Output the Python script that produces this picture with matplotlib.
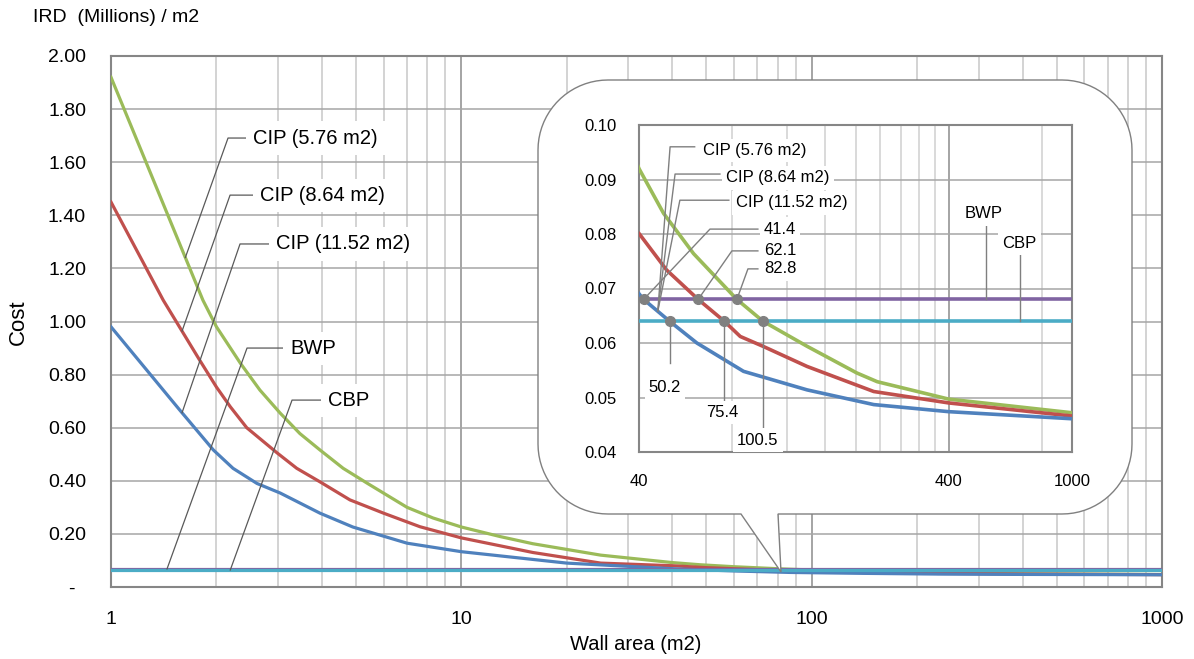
import matplotlib
matplotlib.use('Agg')
import matplotlib.pyplot as plt
import numpy as np
from matplotlib.path import Path
from matplotlib.patches import PathPatch
from matplotlib.ticker import FixedLocator, NullFormatter

plt.rcParams['font.family'] = ['Liberation Sans', 'DejaVu Sans']

# --- data ---
area_576 = [1, 1.83, 2.0, 2.34, 2.66, 3.04, 3.46, 3.95, 4.6, 5.4, 7.0, 8.3, 10, 12.9, 16, 25, 40, 48, 60,
            82.8, 100.5, 139.5, 202, 235, 400, 1000]
cost_576 = [1.92, 1.08, 0.98, 0.843, 0.742, 0.655, 0.578, 0.516, 0.447, 0.39, 0.30, 0.26, 0.226, 0.19, 0.163,
            0.12, 0.092, 0.0838, 0.0764, 0.068, 0.064, 0.0594, 0.0545, 0.0529, 0.0497, 0.0472]

area_864 = [1, 1.41, 1.79, 2.0, 2.19, 2.44, 2.98, 3.39, 3.95, 4.81, 6.0, 7.62, 10, 16, 25, 40, 49.1, 62.1, 75.4,
            84.9, 100.5, 139.5, 229, 400, 1000]
cost_864 = [1.45, 1.08, 0.855, 0.753, 0.679, 0.60, 0.505, 0.447, 0.396, 0.328, 0.278, 0.227, 0.185, 0.13, 0.09,
            0.0801, 0.0734, 0.068, 0.064, 0.0612, 0.0594, 0.0557, 0.0511, 0.049, 0.0466]

area_1152 = [1, 1.57, 1.96, 2.23, 2.61, 3.04, 3.95, 4.9, 7.0, 10, 20, 41.4, 50.2, 61.5, 87, 139.5, 229, 400, 1000]
cost_1152 = [0.98, 0.667, 0.516, 0.447, 0.39, 0.354, 0.278, 0.226, 0.165, 0.133, 0.09, 0.068, 0.064, 0.060,
             0.0548, 0.0514, 0.0487, 0.0474, 0.0461]

area_range = [1, 1000]
cost_bwp = 0.068
cost_cbp = 0.064

bwp_hits = [41.4, 62.1, 82.8]
cbp_hits = [50.2, 75.4, 100.5]

main_yticks = [0, 0.2, 0.4, 0.6, 0.8, 1.0, 1.2, 1.4, 1.6, 1.8, 2.0]
inset_yticks = [0.04, 0.05, 0.06, 0.07, 0.08, 0.09, 0.10]

c_green = '#9BBB59'
c_red = '#C0504D'
c_blue = '#4F81BD'
c_purple = '#8064A2'
c_cyan = '#4BACC6'

W, H = 1194, 659
fig = plt.figure(figsize=(W / 100, H / 100), dpi=100)


def fr(px, py):
    return px / W, 1 - py / H


def on_curve(xs, ys, x):
    return np.interp(np.log10(x), np.log10(xs), ys)


# --- main chart ---
ax = fig.add_axes([111 / W, 1 - 587 / H, (1162 - 111) / W, (587 - 56) / H])
ax.set_xscale('log')
ax.set_xlim(1, 1000)
ax.set_ylim(0, 2)

ax.plot(area_576, cost_576, color=c_green, lw=2.3, zorder=3)
ax.plot(area_864, cost_864, color=c_red, lw=2.3, zorder=3)
ax.plot(area_1152, cost_1152, color=c_blue, lw=2.3, zorder=3)
ax.plot(area_range, [cost_bwp, cost_bwp], color=c_purple, lw=2.3, zorder=3)
ax.plot(area_range, [cost_cbp, cost_cbp], color=c_cyan, lw=2.3, zorder=3)

ax.set_xticks([1, 10, 100, 1000])
ax.set_xticklabels(['1', '10', '100', '1000'])
ax.xaxis.set_minor_formatter(NullFormatter())
ax.set_yticks(main_yticks)
ax.set_yticklabels(['-  '] + ['%.2f' % v for v in main_yticks[1:]])
ax.tick_params(which='both', length=0, labelsize=14)
ax.tick_params(axis='y', pad=18)
ax.tick_params(axis='x', pad=17)
ax.grid(which='major', axis='y', color='#a6a6a6', lw=1.1)
ax.grid(which='major', axis='x', color='#8c8c8c', lw=1.1)
ax.grid(which='minor', axis='x', color='#c8c8c8', lw=1.1)
ax.set_axisbelow(True)
for s in ax.spines.values():
    s.set_color('#868686')
    s.set_linewidth(1.5)

# main labels with leader lines: (text, curve point, elbow x, text x, text y)
main_labels = [
    ('CIP (5.76 m2)', (1.63, on_curve(area_576, cost_576, 1.63)), 2.158, 2.544, 1.691),
    ('CIP (8.64 m2)', (1.595, on_curve(area_864, cost_864, 1.595)), 2.187, 2.663, 1.476),
    ('CIP (11.52 m2)', (1.595, on_curve(area_1152, cost_1152, 1.595)), 2.335, 2.958, 1.292),
    ('BWP', (1.445, cost_bwp), 2.445, 3.243, 0.900),
    ('CBP', (2.19, cost_cbp), 3.287, 4.164, 0.704),
]
for txt, pt, ex, tx, ty in main_labels:
    ax.plot([pt[0], ex, tx * 0.985], [pt[1], ty, ty], color='#595959', lw=0.9, zorder=4)
    ax.text(tx, ty, txt, fontsize=14.5, ha='left', va='center', zorder=5,
            bbox=dict(boxstyle='square,pad=0.35', fc='white', ec='none'))

# --- callout bubble ---
x0, x1, y0, y1, r = 538, 1132, 80, 514, 70
pts = []
for cx, cy, a0, a1 in [(x0 + r, y0 + r, 180, 270), (x1 - r, y0 + r, 270, 360), (x1 - r, y1 - r, 0, 90)]:
    for a in np.linspace(np.radians(a0), np.radians(a1), 20):
        pts.append((cx + r * np.cos(a), cy + r * np.sin(a)))
pts += [(778, y1), (781, 572), (741, y1)]
for a in np.linspace(np.radians(90), np.radians(180), 20):
    pts.append((x0 + r + r * np.cos(a), y1 - r + r * np.sin(a)))
pts.append(pts[0])
verts = [fr(px, py) for px, py in pts]
bubble = PathPatch(Path(verts), transform=fig.transFigure, fc='white', ec='#808080', lw=1.0,
                   clip_on=False, zorder=10)
ax.add_patch(bubble)

# --- inset (zoom 40..1000) ---
ins = fig.add_axes([639 / W, 1 - 452 / H, (1072 - 639) / W, (452 - 125) / H])
ins.set_xscale('log')
ins.set_xlim(40, 1000)
ins.set_ylim(0.04, 0.10)

ins.plot(area_576, cost_576, color=c_green, lw=2.6, zorder=3)
ins.plot(area_864, cost_864, color=c_red, lw=2.6, zorder=3)
ins.plot(area_1152, cost_1152, color=c_blue, lw=2.6, zorder=3)
ins.plot(area_range, [cost_bwp, cost_bwp], color=c_purple, lw=2.6, zorder=3)
ins.plot(area_range, [cost_cbp, cost_cbp], color=c_cyan, lw=2.6, zorder=3)
ins.plot(bwp_hits, [cost_bwp] * 3, 'o', color='#808080', ms=7, zorder=6)
ins.plot(cbp_hits, [cost_cbp] * 3, 'o', color='#808080', ms=7, zorder=6)

ins.xaxis.set_major_locator(FixedLocator([40, 400, 1000]))
ins.set_xticklabels(['40', '400', '1000'])
ins.xaxis.set_minor_locator(FixedLocator([80, 120, 160, 200, 240, 280, 320, 360, 800]))
ins.xaxis.set_minor_formatter(NullFormatter())
ins.set_yticks(inset_yticks)
ins.set_yticklabels(['%.2f' % v for v in inset_yticks])
ins.tick_params(which='both', length=0, labelsize=12)
ins.tick_params(axis='y', pad=16)
ins.tick_params(axis='x', pad=16)
ins.grid(which='major', axis='y', color='#a6a6a6', lw=1.1)
ins.grid(which='major', axis='x', color='#8c8c8c', lw=1.1)
ins.grid(which='minor', axis='x', color='#cfcfcf', lw=1.1)
ins.set_axisbelow(True)
for s in ins.spines.values():
    s.set_color('#868686')
    s.set_linewidth(1.5)

lead = dict(color='#7f7f7f', lw=1.0, zorder=4)
box = dict(boxstyle='square,pad=0.25', fc='white', ec='none')

# CIP labels in the inset all point at the blue curve near 46 m2
p46 = (46, on_curve(area_1152, cost_1152, 46))
inset_cip = [
    ('CIP (5.76 m2)', 50.4, 60.5, 64.4, 0.0960, 0.0953),
    ('CIP (8.64 m2)', 52.3, 73.0, 76.3, 0.0910, 0.0903),
    ('CIP (11.52 m2)', 54.2, 78.0, 82.2, 0.0862, 0.0857),
]
for txt, ex, lx, tx, ly, ty in inset_cip:
    ins.plot([p46[0], ex, lx], [p46[1], ly, ly], **lead)
    ins.text(tx, ty, txt, fontsize=12, ha='left', va='center', zorder=5, bbox=box)

# crossing values on the BWP line
bwp_lab = [(41.4, 67.8, 0.0809, '41.4'), (62.1, 79.8, 0.0769, '62.1'), (82.8, 89.9, 0.0736, '82.8')]
for hx, ex, ty, txt in bwp_lab:
    ins.plot([hx, ex, 96.8], [cost_bwp, ty, ty], **lead)
    ins.text(101.2, ty, txt, fontsize=12, ha='left', va='center', zorder=5, bbox=box)

# crossing values on the CBP line
cbp_lab = [(50.2, 48.5, 0.0563, 0.0519, '50.2'), (75.4, 74.1, 0.0495, 0.0472, '75.4'),
           (100.5, 96.8, 0.0444, 0.0422, '100.5')]
for hx, tx, ey, ty, txt in cbp_lab:
    ins.plot([hx, hx], [cost_cbp, ey], **lead)
    ins.text(tx, ty, txt, fontsize=12, ha='center', va='center', zorder=5, bbox=box)

ins.plot([526, 526], [cost_bwp, 0.0818], **lead)
ins.text(518.8, 0.0837, 'BWP', fontsize=12, ha='center', va='center', zorder=5, bbox=box)
ins.plot([681, 681], [cost_cbp, 0.0771], **lead)
ins.text(678, 0.0783, 'CBP', fontsize=12, ha='center', va='center', zorder=5, bbox=box)

# --- titles ---
fig.text(*fr(33, 18), 'IRD  (Millions) / m2', fontsize=14, ha='left', va='center')
fig.text(*fr(18, 322), 'Cost', fontsize=16, rotation=90, ha='center', va='center')
fig.text(*fr(636, 645), 'Wall area (m2)', fontsize=14.5, ha='center', va='center')

fig.savefig('out.png', dpi=100)
